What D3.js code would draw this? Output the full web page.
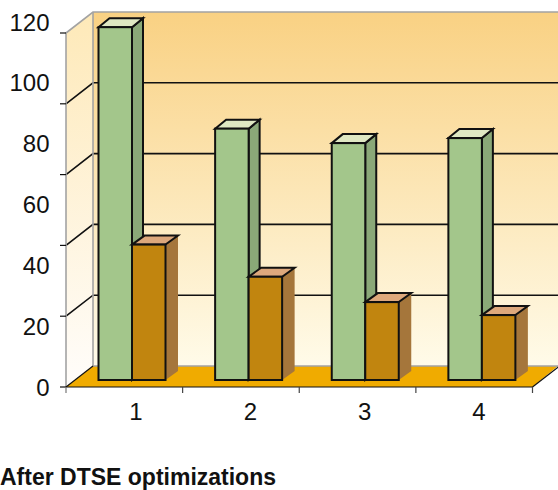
<!DOCTYPE html>
<html>
<head>
<meta charset="utf-8">
<script src="https://cdn.jsdelivr.net/npm/d3@7"></script>
<style>
html,body{margin:0;padding:0;background:#fff}
svg{display:block}
text{font-family:"Liberation Sans",Arial,sans-serif;fill:#111}
</style>
</head>
<body>
<svg id="chart" width="558" height="490"></svg>
<script>
const categories = ["1", "2", "3", "4"];
const seriesNames = ["before", "after"];
const beforeValues = [119.6, 85.2, 80.3, 82];
const afterValues = [45.9, 35, 26.4, 22];
const valueLabels = [0, 20, 40, 60, 80, 100, 120];
const wallSteps = [0, 1, 2, 3, 4, 5];
const titleText = "After DTSE optimizations";

const svg = d3.select("#chart");
const defs = svg.append("defs");

function verticalGradient(id, top, bottom) {
  const g = defs.append("linearGradient").attr("id", id)
    .attr("x1", 0).attr("y1", 0).attr("x2", 0).attr("y2", 1);
  g.append("stop").attr("offset", "0%").attr("stop-color", top);
  g.append("stop").attr("offset", "100%").attr("stop-color", bottom);
}
verticalGradient("backWall", "#f9d183", "#fffbe9");
verticalGradient("sideWall", "#fee9b8", "#fffdfb");

// Chart box: front plane, and the offset of the back wall behind it
const wallDx = 27, wallDy = -21;
const x = d3.scaleBand().domain(categories).range([66, 532.5]);
const categoryLabelX = d3.scalePoint().domain(categories).range([136, 479]);
const wallY = d3.scaleLinear().domain([0, 5]).range([387, 33]);
const labelY = d3.scaleLinear().domain([0, 120]).range([387, 22]);
const barY = d3.scaleLinear().domain([0, 120]).range([380, 26]);
const seriesX = d3.scaleBand().domain(seriesNames).range([32.5, 99.5]);

const pts = a => a.map(p => p.join(",")).join(" ");
const edge = "#111";
const grey = "#a3a3a3";

const x0 = x.range()[0], x1 = x.range()[1];
const yTop = wallY(5), yBase = wallY(0);

// Walls and floor
svg.append("rect")
  .attr("x", x0 + wallDx).attr("y", yTop + wallDy)
  .attr("width", 558 - x0 - wallDx).attr("height", yBase - yTop)
  .attr("fill", "url(#backWall)");
svg.append("polygon")
  .attr("points", pts([[x0, yTop], [x0 + wallDx, yTop + wallDy], [x0 + wallDx, yBase + wallDy], [x0, yBase]]))
  .attr("fill", "url(#sideWall)");

// Gridlines run along the side wall, then across the back wall
const grid = svg.append("g").attr("fill", "none").attr("stroke", edge).attr("stroke-width", 1.6);
wallSteps.filter(v => v > 0 && v < 5).forEach(v => {
  grid.append("polyline").attr("points", pts([
    [x0, wallY(v)], [x0 + wallDx, wallY(v) + wallDy], [558, wallY(v) + wallDy]
  ]));
});

svg.append("polygon")
  .attr("points", pts([
    [x0, yBase], [x0 + wallDx, yBase + wallDy], [558, yBase + wallDy], [x1, yBase]
  ]))
  .attr("fill", "#f0ab00");

// Grey frame of the walls
svg.append("polyline")
  .attr("points", pts([
    [x0, yBase], [x0, yTop], [x0 + wallDx, yTop + wallDy], [558, yTop + wallDy]
  ]))
  .attr("fill", "none").attr("stroke", grey).attr("stroke-width", 1.6);
svg.append("polyline")
  .attr("points", pts([
    [x0 + wallDx, yTop + wallDy], [x0 + wallDx, yBase + wallDy], [558, yBase + wallDy]
  ]))
  .attr("fill", "none").attr("stroke", grey).attr("stroke-width", 1.6);

// Axis lines and ticks
const axes = svg.append("g").attr("stroke", edge).attr("stroke-width", 1.2).attr("fill", "none");
axes.append("line").attr("x1", x0).attr("x2", x1).attr("y1", yBase).attr("y2", yBase);
axes.append("line").attr("x1", x1).attr("x2", x1 + wallDx).attr("y1", yBase).attr("y2", yBase + wallDy);
axes.append("line").attr("x1", x0).attr("x2", x0 + wallDx).attr("y1", yBase).attr("y2", yBase + wallDy);
wallSteps.forEach(v => {
  axes.append("line").attr("x1", x0 - 6).attr("x2", x0).attr("y1", wallY(v)).attr("y2", wallY(v));
});
const xTicks = categories.map(c => x(c)).concat([x1]);
xTicks.forEach((px, i) => {
  axes.append("line").attr("x1", px).attr("x2", px).attr("y1", yBase).attr("y2", yBase + 6)
    .attr("stroke", i === 0 ? "#777" : "#444");
});

// 3D bars: side and top faces first, then the front
const barStyles = {
  before: { front: "#a3c68b", top: "#dfe8c3", side: "#8aa878", dx: 11, dy: -9 },
  after:  { front: "#c1850f", top: "#dda87c", side: "#a5763b", dx: 12.5, dy: -9 }
};

function drawBar(parent, category, series, value) {
  const s = barStyles[series];
  const left = x(category) + seriesX(series);
  const right = left + seriesX.bandwidth();
  const top = barY(value), base = barY(0);
  const g = parent.append("g")
    .attr("stroke", edge).attr("stroke-width", 2).attr("stroke-linejoin", "miter");
  g.append("polygon").attr("fill", s.side)
    .attr("stroke", series === "after" ? "none" : edge)
    .attr("points", pts([[right, top], [right + s.dx, top + s.dy], [right + s.dx, base + s.dy], [right, base]]));
  g.append("polygon").attr("fill", s.top)
    .attr("points", pts([[left, top], [left + s.dx, top + s.dy], [right + s.dx, top + s.dy], [right, top]]));
  g.append("rect").attr("fill", s.front)
    .attr("x", left).attr("y", top)
    .attr("width", right - left).attr("height", base - top);
}

const bars = svg.append("g");
categories.forEach((c, i) => {
  drawBar(bars, c, "before", beforeValues[i]);
  drawBar(bars, c, "after", afterValues[i]);
});

// Value and category labels
svg.append("g").selectAll("text").data(valueLabels).join("text")
  .attr("x", 49.5).attr("y", d => labelY(d))
  .attr("text-anchor", "end").attr("dominant-baseline", "central")
  .attr("font-size", 24)
  .text(d => d);

svg.append("g").selectAll("text").data(categories).join("text")
  .attr("x", d => categoryLabelX(d))
  .attr("y", 420)
  .attr("text-anchor", "middle")
  .attr("font-size", 24)
  .text(d => d);

svg.append("text")
  .attr("x", 0).attr("y", 485)
  .attr("font-size", 23).attr("font-weight", "bold")
  .text(titleText);
</script>
</body>
</html>
